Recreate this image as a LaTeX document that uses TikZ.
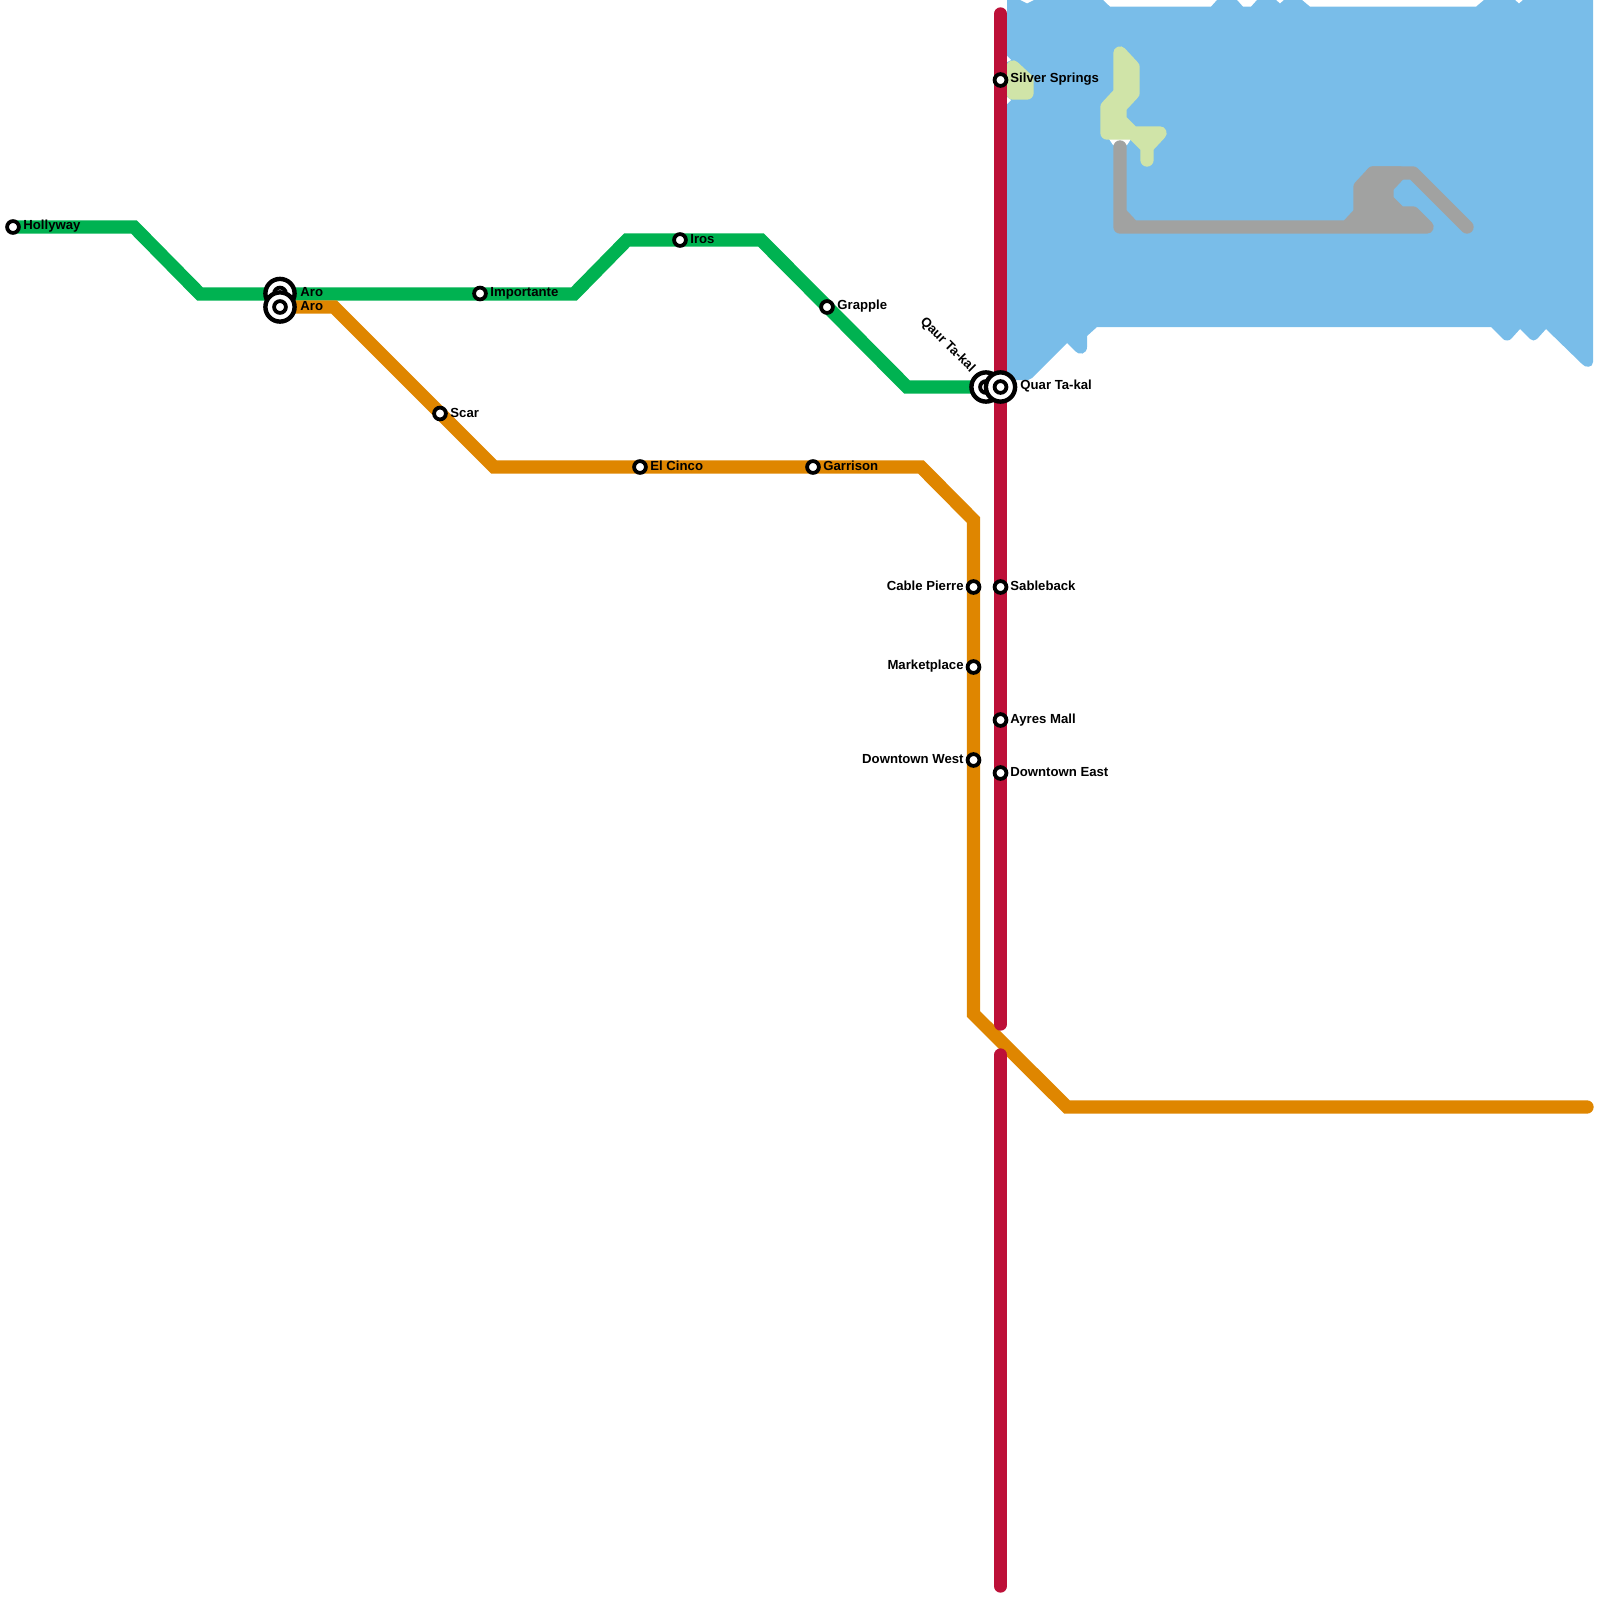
\documentclass[tikz,border=0pt]{standalone}
\usepackage{fontspec}
\setmainfont{Liberation Sans}[BoldFont={Liberation Sans Bold}]
\definecolor{water}{HTML}{79BDE9}
\definecolor{parkc}{HTML}{D0E4A8}
\definecolor{greyc}{HTML}{A1A2A1}
\definecolor{greenl}{HTML}{00B251}
\definecolor{orangel}{HTML}{DF8600}
\definecolor{redl}{HTML}{BD1038}
\tikzset{
  metro/.style={line width=6.67pt,line cap=round,line join=miter},
  blob/.style={line width=6.67pt,line cap=round,line join=round},
  stn/.style={circle,draw=black,fill=white,line width=1.9pt,minimum size=5.9pt,inner sep=0pt},
  hubo/.style={circle,draw=black,fill=white,line width=2.2pt,minimum size=14.6pt,inner sep=0pt},
  lbl/.style={font=\bfseries\fontsize{6.58}{7.5}\selectfont,text=black,inner sep=0pt},
}
\begin{document}
\begin{tikzpicture}[x=0.5pt,y=-0.5pt]
\useasboundingbox (0,0) rectangle (1600,1600);
% water
\fill[water] (1007,0) -- (1020,0) -- (1027,3.5) -- (1034,0) -- (1103,0) -- (1110,6.7) -- (1211,6.7) -- (1217,0)
 -- (1237,0) -- (1243,6.7) -- (1251,6.7) -- (1257,0) -- (1276,0) -- (1280,3.5) -- (1284,0) -- (1302,0) -- (1310,6.7)
 -- (1476,6.7) -- (1484,0) -- (1515,0) -- (1519,3.5) -- (1523,0) -- (1593,0) -- (1593,362)
 .. controls (1593,368) and (1585,368) .. (1582,364) -- (1546,329) -- (1537,339)
 .. controls (1535,341) and (1532,341) .. (1530,339) -- (1520,329) -- (1511,339)
 .. controls (1509,341) and (1505,341) .. (1503,339) -- (1491,327) -- (1097,327) -- (1087,336) -- (1087,347)
 .. controls (1087,354) and (1079,356) .. (1075,351) -- (1067,343) -- (1032,378) -- (1028,380) -- (1007,380) -- cycle;
% white specks
\fill[white] (1007,56) -- (1011,60) -- (1007,62) -- cycle;
\fill[white] (1007,97) -- (1011,100) -- (1007,104) -- cycle;
\fill[white] (1109,139) -- (1131,139) -- (1127,145) -- (1113,145) -- cycle;
% parks
\filldraw[parkc,blob] (1013,67) -- (1027,80) -- (1027,93) -- (1013,93) -- cycle;
\filldraw[parkc,blob] (1120,53) -- (1133,67) -- (1133,93) -- (1120,107) -- (1120,120) -- (1133,133) -- (1160,133)
 -- (1147,147) -- (1147,160) -- (1147,147) -- (1133,133) -- (1107,133) -- (1107,107) -- (1120,93) -- cycle;
% grey
\filldraw[greyc,blob] (1120,147) -- (1120,227) -- (1427,227) -- (1413,213) -- (1400,213) -- (1387,200) -- (1387,187)
 -- (1400,173) -- (1373,173) -- (1360,187) -- (1360,213) -- (1347,227) -- (1133,227) -- (1120,213) -- cycle;
\draw[greyc,blob] (1373,173) -- (1413,173) -- (1467,227);
% line vertices
\coordinate (g1) at (134,227); \coordinate (g2) at (200,294); \coordinate (g3) at (574,294);
\coordinate (g4) at (627,240); \coordinate (g5) at (761,240); \coordinate (g6) at (907,387);
\coordinate (o1) at (334,307); \coordinate (o2) at (494,467); \coordinate (o3) at (921,467);
\coordinate (o4) at (973.5,520); \coordinate (o5) at (973.5,1014); \coordinate (o6) at (1067,1107); \coordinate (o7) at (1587,1107);
\coordinate (r1) at (1000.5,14); \coordinate (r2) at (1000.5,1024); \coordinate (r3) at (1000.5,1055); \coordinate (r4) at (1000.5,1586);
% stations
\coordinate (pHolly) at (13,227); \coordinate (pAroG) at (280,293.5); \coordinate (pAroO) at (280,307);
\coordinate (pQaur) at (986,387); \coordinate (pQuar) at (1000.5,387);
% lines
\draw[metro,greenl] (pHolly) -- (g1) -- (g2) -- (g3) -- (g4) -- (g5) -- (g6) -- (pQaur);
\draw[metro,orangel] (pAroO) -- (o1) -- (o2) -- (o3) -- (o4) -- (o5) -- (o6) -- (o7);
\draw[metro,redl] (r1) -- (r2);
\draw[metro,redl] (r3) -- (r4);
% station markers
\node[stn] (hollyway) at (pHolly) {};
\node[hubo] (aroGo) at (pAroG) {};
\node[stn] (aroGi) at (pAroG) {};
\node[hubo] (aroOo) at (pAroO) {};
\node[stn] (aroOi) at (pAroO) {};
\node[stn] (importante) at (480,293.5) {};
\node[stn] (iros) at (680,240) {};
\node[stn] (grapple) at (827,307) {};
\node[stn] (scar) at (440,413.5) {};
\node[stn] (elcinco) at (640,467) {};
\node[stn] (garrison) at (813,467) {};
\node[stn] (cable) at (973.5,587) {};
\node[stn] (market) at (973.5,667) {};
\node[stn] (dwest) at (973.5,760) {};
\node[stn] (silver) at (1000.5,80) {};
\node[stn] (sable) at (1000.5,587) {};
\node[stn] (ayres) at (1000.5,720) {};
\node[stn] (deast) at (1000.5,773) {};
\node[hubo] (qaurO) at (pQaur) {};
\node[stn] (qaurI) at (pQaur) {};
\node[hubo] (quarO) at (pQuar) {};
\node[stn] (quarI) at (pQuar) {};
% labels
\node[lbl,anchor=west] (tHolly) at (23,226.5) {Hollyway};
\node[lbl,anchor=west] (tAro1) at (300,292.5) {Aro};
\node[lbl,anchor=west] (tAro2) at (300,306) {Aro};
\node[lbl,anchor=west] (tImp) at (490,293) {Importante};
\node[lbl,anchor=west] (tIros) at (690,239.5) {Iros};
\node[lbl,anchor=west] (tGrap) at (837,306.5) {Grapple};
\node[lbl,anchor=west] (tScar) at (450,413) {Scar};
\node[lbl,anchor=west] (tElc) at (650,466) {El Cinco};
\node[lbl,anchor=west] (tGar) at (823,466) {Garrison};
\node[lbl,anchor=east] (tCab) at (964,586) {Cable Pierre};
\node[lbl,anchor=east] (tMar) at (964,666.5) {Marketplace};
\node[lbl,anchor=east] (tDw) at (964,759) {Downtown West};
\node[lbl,anchor=west] (tSil) at (1010,79.5) {Silver Springs};
\node[lbl,anchor=west] (tSab) at (1010,586) {Sableback};
\node[lbl,anchor=west] (tAy) at (1010,720) {Ayres Mall};
\node[lbl,anchor=west] (tDe) at (1010,772.5) {Downtown East};
\node[lbl,anchor=west] (tQuar) at (1020,386.5) {Quar Ta-kal};
\node[lbl,rotate=-45] (tQaur) at (947.5,345) {Qaur Ta-kal};
\end{tikzpicture}
\end{document}
